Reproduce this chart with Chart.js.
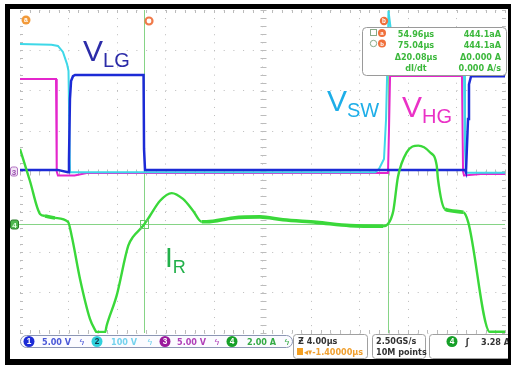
<!DOCTYPE html>
<html>
<head>
<meta charset="utf-8">
<title>Scope capture</title>
<script src="https://cdn.jsdelivr.net/npm/chart.js@4.4.0/dist/chart.umd.min.js"></script>
<style>
  html, body { margin: 0; padding: 0; background: #fff; }
  #wrap { position: relative; width: 511px; height: 365px; }
</style>
</head>
<body>
<div id="wrap"><canvas id="canvas" width="511" height="365"></canvas></div>
<script>
// screen: 10 div x 4 us, 8 div vertical
var timeSpan = 40;
var cursorA = 10.24, cursorDelta = 20.08;

// channel setup: CH1 V_LG, CH2 V_SW, CH3 V_HG, CH4 I_R
var chPerDiv = [5, 100, 5, 2];
var chGroundDiv = [0, 0, 0, -1.3];
var chScaleText = ['5.00 V', '100 V', '5.00 V', '2.00 A'];

// CH1 low-side gate V_LG (V)
var lgTime = [0, 3.1, 3.96, 4.04, 4.12, 4.21, 4.37, 4.54, 10.19, 10.23, 10.31, 36.7, 36.78, 36.95, 37.03, 37.2, 40];
var lgVolt = [0.2, 0.2, -0.1, 1.5, 9.0, 11.2, 11.8, 11.95, 11.95, 2.8, 0.2, 0.2, -0.1, 6.5, 10.8, 11.8, 11.8];

// CH2 switch node V_SW (V)
var swTime = [0, 2.6, 3.13, 3.54, 3.88, 4.0, 4.12, 29.3, 29.6, 30.02, 30.19, 30.35, 30.39, 30.68, 31.01, 36.45, 36.62, 36.7, 36.78, 40];
var swVolt = [316, 314, 311, 296, 266, 249, -2, -2, 6, 31, 130, 328, 398, 328, 316, 316, 239, 56, -3, -3];

// CH3 high-side gate V_HG (V)
var hgTime = [0, 2.97, 3.03, 3.13, 4.5, 5.5, 30.35, 30.43, 30.52, 36.45, 36.54, 36.62, 38, 40];
var hgVolt = [11.46, 11.46, 0, -0.5, -0.5, -0.2, -0.2, 5, 11.83, 11.83, 0, -0.5, -0.3, -0.3];

// CH4 resonant current I_R (A)
var irTime = [0, 0.82, 1.65, 2.06, 2.89, 3.96, 4.26, 4.95, 5.77, 6.19, 6.35, 7.01, 7.15, 7.97, 8.93, 9.32, 10.17, 10.72, 11.55, 12.51, 13.44, 14.27, 14.99, 15.40, 17.57, 19.79, 21.69, 24.47, 27.22, 29.94, 30.35, 30.79, 31.17, 31.89, 32.85, 33.81, 34.37, 34.47, 35.05, 36.56, 36.97, 38.76, 40];
var irAmp = [3.71, 2.13, 0.50, 0.40, 0.30, 0.10, -0.58, -2.72, -4.70, -5.25, -5.38, -5.38, -5.03, -3.55, -1.07, -0.64, -0.08, 0.41, 1.15, 1.53, 1.24, 0.66, 0.11, 0.11, 0.30, 0.35, 0.21, 0.08, -0.08, -0.11, 0, 0.66, 2.33, 3.55, 3.88, 3.55, 2.89, 2.23, 0.74, 0.58, 0.08, -5.36, -5.37];

// cursor readout
var measTimes = ['54.96\u00b5s', '75.04\u00b5s', '\u039420.08\u00b5s', 'dI/dt'];
var measVals = ['444.1aA', '444.1aA', '\u03940.000 A', '0.000 A/s'];

function pts(t, v) {
  return t.map(function (x, i) { return { x: x, y: v[i] }; });
}
function chAxis(i) {
  return {
    type: 'linear', display: false,
    min: (-4 - chGroundDiv[i]) * chPerDiv[i],
    max: (4 - chGroundDiv[i]) * chPerDiv[i]
  };
}

var FONT = '"Liberation Sans", Arial, sans-serif';
var NARROW = '"Liberation Sans Narrow", "DejaVu Sans Condensed", "Liberation Sans", sans-serif';

function txt(ctx, s, x, y, font, color, align) {
  ctx.font = font;
  ctx.fillStyle = color;
  ctx.textAlign = align || 'left';
  ctx.textBaseline = 'alphabetic';
  ctx.fillText(s, x, y);
  return ctx.measureText(s).width;
}
function subLabel(ctx, main, sub, x, y, big, small, drop, color) {
  var w = txt(ctx, main, x, y, big + 'px ' + FONT, color);
  txt(ctx, sub, x + w, y + drop, small + 'px ' + FONT, color);
}
function rrect(ctx, x, y, w, h, r) {
  ctx.beginPath();
  ctx.moveTo(x + r, y);
  ctx.arcTo(x + w, y, x + w, y + h, r);
  ctx.arcTo(x + w, y + h, x, y + h, r);
  ctx.arcTo(x, y + h, x, y, r);
  ctx.arcTo(x, y, x + w, y, r);
  ctx.closePath();
}
function dot(ctx, x, y, r, fill, label, tcol) {
  ctx.beginPath();
  ctx.arc(x, y, r, 0, Math.PI * 2);
  ctx.fillStyle = fill;
  ctx.fill();
  if (label) {
    ctx.font = 'bold ' + (r * 1.5) + 'px ' + FONT;
    ctx.fillStyle = tcol || '#fff';
    ctx.textAlign = 'center';
    ctx.textBaseline = 'middle';
    ctx.fillText(label, x, y + 0.5);
  }
}

var scopeDeco = {
  id: 'scopeDeco',
  beforeDatasetsDraw: function (chart) {
    var ctx = chart.ctx, a = chart.chartArea;
    var sx = chart.scales.x, sy = chart.scales.y, si = chart.scales.yI;
    ctx.save();
    ctx.strokeStyle = '#bcbcbc';
    ctx.lineWidth = 1;
    var cx = Math.round(sx.getPixelForValue(timeSpan / 2)) + 0.5;
    var cy = Math.round(sy.getPixelForValue(0)) + 0.5;
    ctx.beginPath();
    for (var t = 0; t <= timeSpan + 0.01; t += 0.8) {
      var px = Math.round(sx.getPixelForValue(t)) + 0.5;
      ctx.moveTo(px, cy - 3); ctx.lineTo(px, cy + 3);
      ctx.moveTo(px, a.top); ctx.lineTo(px, a.top + 3);
      ctx.moveTo(px, a.bottom); ctx.lineTo(px, a.bottom - 3);
    }
    for (var d = -4; d <= 4.001; d += 0.2) {
      var py = Math.round(sy.getPixelForValue(d)) + 0.5;
      ctx.moveTo(cx - 3, py); ctx.lineTo(cx + 3, py);
      ctx.moveTo(a.left, py); ctx.lineTo(a.left + 3, py);
      ctx.moveTo(a.right, py); ctx.lineTo(a.right - 3, py);
    }
    ctx.stroke();

    // CH4 ground line and the two cursors
    ctx.strokeStyle = '#86d486';
    ctx.beginPath();
    var gy = Math.round(si.getPixelForValue(0)) + 0.5;
    ctx.moveTo(a.left - 4, gy); ctx.lineTo(a.right, gy);
    [cursorA, cursorA + cursorDelta].forEach(function (tc) {
      var px = Math.round(sx.getPixelForValue(tc)) + 0.5;
      ctx.moveTo(px, a.top); ctx.lineTo(px, a.bottom);
    });
    ctx.stroke();
    ctx.restore();
  },
  afterDatasetsDraw: function (chart) {
    var ctx = chart.ctx, a = chart.chartArea;
    var sx = chart.scales.x, sy = chart.scales.y, si = chart.scales.yI;
    ctx.save();

    // cursor a marker on trace
    var ax = Math.round(sx.getPixelForValue(cursorA)) + 0.5;
    var gy = Math.round(si.getPixelForValue(0)) + 0.5;
    ctx.strokeStyle = '#6cc86c';
    ctx.lineWidth = 1;
    ctx.strokeRect(ax - 4, gy - 4, 8, 8);

    // trace annotations
    subLabel(ctx, 'V', 'LG', 83, 61, 30, 20, 6, '#2c2ca8');
    subLabel(ctx, 'V', 'SW', 327, 111, 30, 20, 6, '#1eaee8');
    subLabel(ctx, 'V', 'HG', 402, 117, 30, 20, 6, '#ea32c6');
    subLabel(ctx, 'I', 'R', 165, 267, 28, 18, 6, '#22b04a');

    // channel ground tags at left edge
    var g3 = sy.getPixelForValue(0);
    ctx.fillStyle = '#f3e6f6';
    ctx.strokeStyle = '#b070c0';
    rrect(ctx, 10.5, g3 - 4.5, 7, 9, 2); ctx.fill(); ctx.stroke();
    txt(ctx, '3', 14, g3 + 3.5, 'bold 8px ' + FONT, '#9a50b0', 'center');
    ctx.fillStyle = '#4fb84f';
    ctx.strokeStyle = '#2a7a2a';
    rrect(ctx, 10.5, gy - 4.5, 8, 9, 2); ctx.fill(); ctx.stroke();
    txt(ctx, '4', 14.5, gy + 3.5, 'bold 8px ' + FONT, '#e8ffe8', 'center');

    // orange top markers
    dot(ctx, 26, 20, 4.5, '#f29a3a', 'a');
    ctx.beginPath(); ctx.arc(149, 21, 3.5, 0, Math.PI * 2);
    ctx.strokeStyle = '#f07a4a'; ctx.lineWidth = 2.2; ctx.stroke();
    dot(ctx, 384, 21, 4.2, '#f0703c', 'b');

    // cursor readout box
    ctx.lineWidth = 1;
    ctx.fillStyle = '#fff';
    ctx.strokeStyle = '#9a9a9a';
    rrect(ctx, 362.5, 27.5, 144, 48, 4); ctx.fill(); ctx.stroke();
    var rowY = [37, 47.5, 60, 71];
    ctx.strokeStyle = '#88aa88';
    ctx.strokeRect(370.5, rowY[0] - 7.5, 6, 6);
    ctx.beginPath(); ctx.arc(373.5, rowY[1] - 4, 3.2, 0, Math.PI * 2); ctx.stroke();
    dot(ctx, 382, rowY[0] - 4, 4, '#f0703c', 'a');
    dot(ctx, 382, rowY[1] - 4, 4, '#f0703c', 'b');
    for (var i = 0; i < 4; i++) {
      txt(ctx, measTimes[i], 416, rowY[i], 'bold 9px ' + NARROW, '#3cb83c', 'center');
      txt(ctx, measVals[i], 501, rowY[i], 'bold 9px ' + NARROW, '#3cb83c', 'right');
    }

    // status bar
    var sb = 'bold 9px ' + NARROW;
    ctx.fillStyle = '#fbfbff';
    ctx.strokeStyle = '#8c96b4';
    rrect(ctx, 20.5, 335.5, 272, 12, 6); ctx.fill(); ctx.stroke();
    var chDot = [[29, '#1c2bd6', '#fff'], [97, '#2fd0dc', '#134'], [165, '#9a1a9c', '#fff'], [232, '#16a028', '#fff']];
    var chTxt = [[42, '#4a58d8'], [111, '#74d2ee'], [177, '#b040b8'], [247, '#33aa44']];
    var bwX = [82, 150, 217, 287];
    for (var c = 0; c < 4; c++) {
      dot(ctx, chDot[c][0], 341.5, 5.5, chDot[c][1], String(c + 1), chDot[c][2]);
      txt(ctx, chScaleText[c], chTxt[c][0], 345, sb, chTxt[c][1]);
      txt(ctx, '\u03df', bwX[c], 345, '9px ' + FONT, chTxt[c][1], 'center');
    }
    ctx.fillStyle = '#fff';
    ctx.strokeStyle = '#a0a0a0';
    rrect(ctx, 293.5, 334.5, 74, 24, 3); ctx.fill(); ctx.stroke();
    rrect(ctx, 372.5, 334.5, 53, 24, 3); ctx.fill(); ctx.stroke();
    rrect(ctx, 429.5, 334.5, 90, 24, 3); ctx.fill(); ctx.stroke();
    txt(ctx, '\u01b5 4.00\u00b5s', 298, 344, sb, '#333');
    ctx.fillStyle = '#f5a020';
    ctx.fillRect(297, 348, 6, 7);
    txt(ctx, '\u25c2\u25be-1.40000\u00b5s', 304, 355, sb, '#f0a030');
    txt(ctx, '2.50GS/s', 376, 344, sb, '#333');
    txt(ctx, '10M points', 376, 355, sb, '#333');
    dot(ctx, 452, 341.5, 5.5, '#16a028', '4', '#fff');
    txt(ctx, '\u222b', 467, 345, 'bold 10px ' + FONT, '#333', 'center');
    txt(ctx, '3.28 A', 481, 345, sb, '#333');

    // black photo frame
    ctx.fillStyle = '#000';
    ctx.fillRect(5, 4, 506, 5);
    ctx.fillRect(5, 4, 5, 361);
    ctx.fillRect(5, 359, 506, 6);
    ctx.fillRect(508, 4, 3, 361);
    ctx.restore();
  }
};

// noisy flat stretches of the current trace look thicker on the scope
function flatWidth(c) {
  var dy = Math.abs(c.p1.parsed.y - c.p0.parsed.y);
  var dx = Math.abs(c.p1.parsed.x - c.p0.parsed.x);
  return dy / dx < 0.15 ? 3.6 : 2.4;
}

var ctx = document.getElementById('canvas').getContext('2d');
window.scope = new Chart(ctx, {
  type: 'line',
  data: {
    datasets: [{
      label: 'I_R', data: pts(irTime, irAmp), yAxisID: 'yI', order: 0,
      borderColor: '#3ad83a', borderWidth: 2.4, cubicInterpolationMode: 'monotone',
      segment: { borderWidth: flatWidth }
    }, {
      label: 'V_LG', data: pts(lgTime, lgVolt), yAxisID: 'yLG', order: 1,
      borderColor: '#1c2bd6', borderWidth: 2.5
    }, {
      label: 'V_SW', data: pts(swTime, swVolt), yAxisID: 'ySW', order: 2,
      borderColor: '#3ed8e8', borderWidth: 2
    }, {
      label: 'V_HG', data: pts(hgTime, hgVolt), yAxisID: 'yHG', order: 3,
      borderColor: '#e426cc', borderWidth: 2
    }]
  },
  options: {
    responsive: false,
    animation: false,
    layout: { padding: { left: 20, top: 10, right: 6, bottom: 32 } },
    elements: { point: { radius: 0 }, line: { tension: 0, fill: false } },
    plugins: { legend: { display: false }, tooltip: { enabled: false } },
    scales: {
      x: {
        type: 'linear', min: 0, max: timeSpan,
        ticks: { display: false, stepSize: 4 },
        grid: { color: '#bcbcbc', lineWidth: 1, drawTicks: false },
        border: { display: false, dash: [1, 7.08] }
      },
      y: {
        type: 'linear', min: -4, max: 4,
        ticks: { display: false, stepSize: 1 },
        grid: { color: '#bcbcbc', lineWidth: 1, drawTicks: false },
        border: { display: false, dash: [1, 8.7] }
      },
      yLG: chAxis(0),
      ySW: chAxis(1),
      yHG: chAxis(2),
      yI: chAxis(3)
    }
  },
  plugins: [scopeDeco]
});
</script>
</body>
</html>
